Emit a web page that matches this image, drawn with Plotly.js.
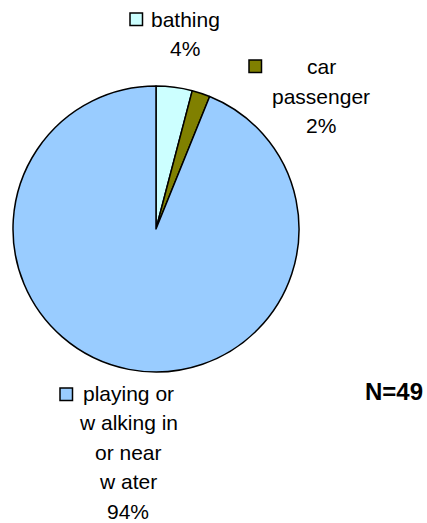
<!DOCTYPE html>
<html>
<head>
<meta charset="utf-8">
<script src="https://cdn.plot.ly/plotly-3.0.1.min.js"></script>
<style>html,body{margin:0;padding:0;background:#fff;}#chart{width:427px;height:523px;}</style>
</head>
<body>
<div id="chart"></div>
<script>
// ---- data ----
var categories = ['bathing', 'car passenger', 'playing or walking in or near water'];
var counts = [2, 1, 46];
var sliceColors = ['#CCFFFF', '#808000', '#99CCFF'];
var labelLines = [['bathing'], ['car', 'passenger'], ['playing or', 'w alking in', 'or near', 'w ater']];
var noteText = 'N=49';

// ---- layout helpers (pixel -> paper) ----
var W = 427, H = 523;
function px(x) { return x / W; }
function py(y) { return 1 - y / H; }

var total = counts.reduce(function (a, b) { return a + b; }, 0);
var pcts = counts.map(function (v) { return Math.round(v / total * 100) + '%'; });

// label block placement: center x, first baseline y, key box left/top
var blocks = [
  {cx: 185, y0: 26, kx: 130, ky: 13},
  {cx: 321, y0: 74, kx: 249, ky: 60},
  {cx: 128, y0: 400, kx: 60, ky: 388}
];
var lineGap = 29.5;
var fontSize = 21;
var font = {family: 'Liberation Sans, Arial, sans-serif', size: fontSize, color: '#000'};

var annotations = [];
var shapes = [];
blocks.forEach(function (b, i) {
  var lines = labelLines[i].concat([pcts[i]]);
  lines.forEach(function (t, j) {
    var base = b.y0 + j * lineGap;
    annotations.push({
      xref: 'paper', yref: 'paper', x: px(b.cx), y: py(base - 7),
      xanchor: 'center', yanchor: 'middle', text: t, showarrow: false, font: font
    });
  });
  shapes.push({
    type: 'rect', xref: 'paper', yref: 'paper',
    x0: px(b.kx), x1: px(b.kx + 12.5), y0: py(b.ky), y1: py(b.ky + 12.5),
    fillcolor: sliceColors[i], line: {color: '#000', width: 1.5}
  });
});
annotations.push({
  xref: 'paper', yref: 'paper', x: px(394), y: py(391),
  xanchor: 'center', yanchor: 'middle', text: '<b>' + noteText + '</b>', showarrow: false,
  font: {family: 'Liberation Sans, Arial, sans-serif', size: 24, color: '#000'}
});

var cx = 156, cy = 229, r = 143;
var data = [{
  type: 'pie',
  labels: categories,
  values: counts,
  sort: false,
  direction: 'clockwise',
  rotation: 0,
  textinfo: 'none',
  hoverinfo: 'label+percent',
  marker: {colors: sliceColors, line: {color: '#000', width: 1.5}},
  domain: {x: [px(cx - r), px(cx + r)], y: [py(cy + r), py(cy - r)]}
}];

var layout = {
  width: W, height: H,
  margin: {l: 0, r: 0, t: 0, b: 0},
  showlegend: false,
  paper_bgcolor: '#fff',
  annotations: annotations,
  shapes: shapes
};
Plotly.newPlot('chart', data, layout, {displayModeBar: false, staticPlot: true});
</script>
</body>
</html>
